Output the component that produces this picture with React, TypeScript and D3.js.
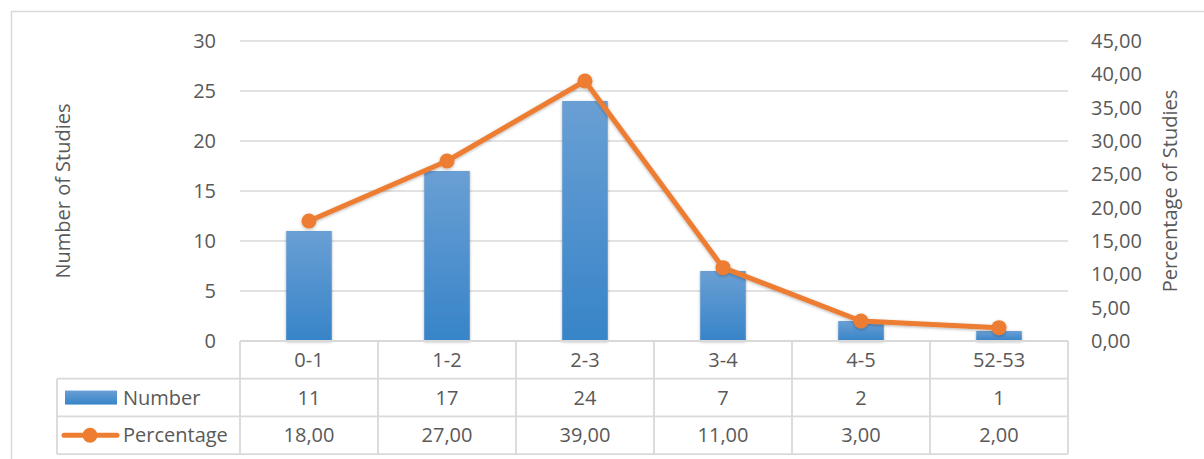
import React, { useEffect, useRef } from 'react';
import * as d3 from 'd3';

const categories = ['0-1', '1-2', '2-3', '3-4', '4-5', '52-53'];
const numbers = [11, 17, 24, 7, 2, 1];
const percentages = [18, 27, 39, 11, 3, 2];
const leftTicks = [0, 5, 10, 15, 20, 25, 30];
const rightTicks = [0, 5, 10, 15, 20, 25, 30, 35, 40, 45];

const FONT = '"Open Sans", "Noto Sans", sans-serif';
const FS = 20;
const TEXT = '#595959';
const GRID = '#d9d9d9';
const ORANGE = '#ed7d31';

const fmt = (v: number) => v.toFixed(2).replace('.', ',');

export default function App() {
  const svgRef = useRef<SVGSVGElement>(null);

  useEffect(() => {
    if (!svgRef.current) return;
    const svg = d3.select(svgRef.current);
    svg.selectAll('*').remove();

    const width = 1204;
    const height = 459;
    const plot = { left: 240, right: 1068, top: 41, bottom: 341 };
    const rowH = 37.7;
    const legendLeft = 57;

    const x = d3.scaleBand()
      .domain(categories)
      .range([plot.left, plot.right])
      .paddingInner(0)
      .paddingOuter(0);

    const yL = d3.scaleLinear().domain([0, 30]).range([plot.bottom, plot.top]);
    const yR = d3.scaleLinear().domain([0, 45]).range([plot.bottom, plot.top]);

    const defs = svg.append('defs');
    const grad = defs.append('linearGradient')
      .attr('id', 'bar-grad')
      .attr('x1', '0%').attr('y1', '0%')
      .attr('x2', '0%').attr('y2', '100%');
    grad.append('stop').attr('offset', '0%').attr('stop-color', '#6a9fd4');
    grad.append('stop').attr('offset', '100%').attr('stop-color', '#3784c8');

    const shadow = defs.append('filter')
      .attr('id', 'shadow')
      .attr('x', '-30%').attr('y', '-30%')
      .attr('width', '160%').attr('height', '160%');
    shadow.append('feDropShadow')
      .attr('dx', 0).attr('dy', 1)
      .attr('stdDeviation', 1.8)
      .attr('flood-color', '#000')
      .attr('flood-opacity', 0.3);

    // outer frame
    svg.append('rect')
      .attr('x', 11.5).attr('y', 11.5)
      .attr('width', width + 20).attr('height', height + 20)
      .attr('fill', 'white')
      .attr('stroke', GRID)
      .attr('stroke-width', 1.5);

    // gridlines
    svg.append('g')
      .selectAll('line')
      .data(leftTicks.filter(t => t > 0))
      .join('line')
      .attr('x1', plot.left).attr('x2', plot.right)
      .attr('y1', d => yL(d)).attr('y2', d => yL(d))
      .attr('stroke', GRID)
      .attr('stroke-width', 1.3);

    // left ticks
    svg.append('g')
      .selectAll('text')
      .data(leftTicks)
      .join('text')
      .attr('x', 216)
      .attr('y', d => yL(d))
      .attr('dy', '0.35em')
      .attr('text-anchor', 'end')
      .attr('font-family', FONT)
      .attr('font-size', FS)
      .attr('fill', TEXT)
      .text(d => d);

    // right ticks
    svg.append('g')
      .selectAll('text')
      .data(rightTicks)
      .join('text')
      .attr('x', 1091)
      .attr('y', d => yR(d))
      .attr('dy', '0.35em')
      .attr('text-anchor', 'start')
      .attr('font-family', FONT)
      .attr('font-size', FS)
      .attr('fill', TEXT)
      .text(d => fmt(d));

    // axis titles
    svg.append('text')
      .attr('transform', `translate(63,${(plot.top + plot.bottom) / 2}) rotate(-90)`)
      .attr('text-anchor', 'middle')
      .attr('dy', '0.35em')
      .attr('font-family', FONT)
      .attr('font-size', FS)
      .attr('fill', TEXT)
      .text('Number of Studies');

    svg.append('text')
      .attr('transform', `translate(1170,${(plot.top + plot.bottom) / 2}) rotate(-90)`)
      .attr('text-anchor', 'middle')
      .attr('dy', '0.35em')
      .attr('font-family', FONT)
      .attr('font-size', FS)
      .attr('fill', TEXT)
      .text('Percentage of Studies');

    // bars
    const barW = x.bandwidth() * 0.33;
    svg.append('g')
      .selectAll('rect')
      .data(numbers)
      .join('rect')
      .attr('x', (d, i) => x(categories[i])! + x.bandwidth() / 2 - barW / 2)
      .attr('y', d => yL(d))
      .attr('width', barW)
      .attr('height', d => plot.bottom - yL(d))
      .attr('fill', 'url(#bar-grad)')
      .attr('filter', 'url(#shadow)');

    // line
    const line = d3.line<number>()
      .x((d, i) => x(categories[i])! + x.bandwidth() / 2)
      .y(d => yR(d));

    const lineG = svg.append('g').attr('filter', 'url(#shadow)');
    lineG.append('path')
      .datum(percentages)
      .attr('d', line)
      .attr('fill', 'none')
      .attr('stroke', ORANGE)
      .attr('stroke-width', 5)
      .attr('stroke-linejoin', 'round')
      .attr('stroke-linecap', 'round');

    lineG.selectAll('circle')
      .data(percentages)
      .join('circle')
      .attr('cx', (d, i) => x(categories[i])! + x.bandwidth() / 2)
      .attr('cy', d => yR(d))
      .attr('r', 7.5)
      .attr('fill', ORANGE);

    // data table
    const table = svg.append('g');
    const t0 = plot.bottom;
    const rows = [t0, t0 + rowH, t0 + 2 * rowH, t0 + 3 * rowH];

    table.append('line')
      .attr('x1', plot.left).attr('x2', plot.right)
      .attr('y1', rows[0]).attr('y2', rows[0])
      .attr('stroke', GRID).attr('stroke-width', 1.8);
    rows.slice(1).forEach(ry => {
      table.append('line')
        .attr('x1', legendLeft).attr('x2', plot.right)
        .attr('y1', ry).attr('y2', ry)
        .attr('stroke', GRID).attr('stroke-width', 1.8);
    });
    const colEdges = [...categories.map(c => x(c)!), plot.right];
    colEdges.forEach(cx => {
      table.append('line')
        .attr('x1', cx).attr('x2', cx)
        .attr('y1', rows[0]).attr('y2', rows[3])
        .attr('stroke', GRID).attr('stroke-width', 1.8);
    });
    table.append('line')
      .attr('x1', legendLeft).attr('x2', legendLeft)
      .attr('y1', rows[1]).attr('y2', rows[3])
      .attr('stroke', GRID).attr('stroke-width', 1.8);

    const cellText = (vals: string[], row: number) => {
      table.append('g')
        .selectAll('text')
        .data(vals)
        .join('text')
        .attr('x', (d, i) => x(categories[i])! + x.bandwidth() / 2)
        .attr('y', (rows[row] + rows[row + 1]) / 2)
        .attr('dy', '0.35em')
        .attr('text-anchor', 'middle')
        .attr('font-family', FONT)
        .attr('font-size', FS)
        .attr('fill', TEXT)
        .text(d => d);
    };
    cellText(categories, 0);
    cellText(numbers.map(String), 1);
    cellText(percentages.map(fmt), 2);

    // legend keys
    const r1 = (rows[1] + rows[2]) / 2;
    const r2 = (rows[2] + rows[3]) / 2;
    table.append('rect')
      .attr('x', 65).attr('y', r1 - 7)
      .attr('width', 52).attr('height', 14)
      .attr('fill', 'url(#bar-grad)');
    table.append('text')
      .attr('x', 123).attr('y', r1).attr('dy', '0.35em')
      .attr('font-family', FONT).attr('font-size', FS).attr('fill', TEXT)
      .text('Number');
    table.append('line')
      .attr('x1', 64).attr('x2', 117)
      .attr('y1', r2).attr('y2', r2)
      .attr('stroke', ORANGE).attr('stroke-width', 5)
      .attr('stroke-linecap', 'round');
    table.append('circle')
      .attr('cx', 90).attr('cy', r2).attr('r', 7.5)
      .attr('fill', ORANGE);
    table.append('text')
      .attr('x', 123).attr('y', r2).attr('dy', '0.35em')
      .attr('font-family', FONT).attr('font-size', FS).attr('fill', TEXT)
      .text('Percentage');
  }, []);

  return (
    <svg
      ref={svgRef}
      width={1204}
      height={459}
      style={{ position: 'absolute', left: 0, top: 0, background: 'white' }}
    />
  );
}
